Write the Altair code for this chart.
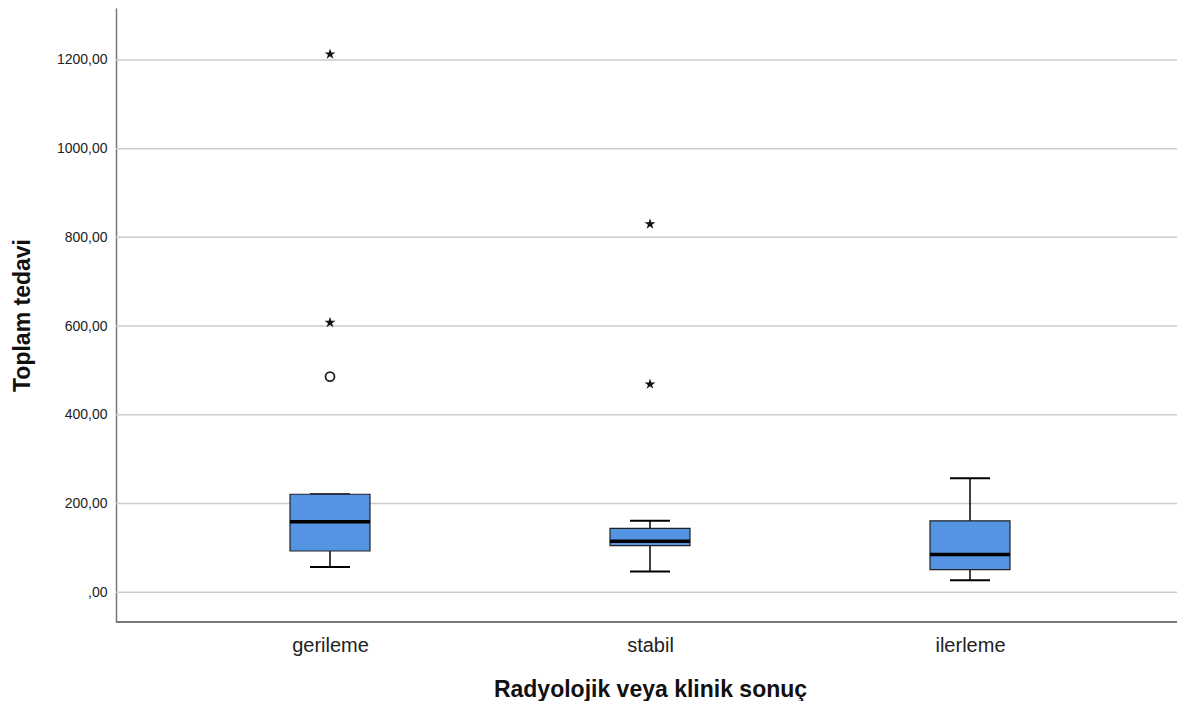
import altair as alt
import pandas as pd

categories = ["gerileme", "stabil", "ilerleme"]
whisker_low = [57, 47, 27]
q1 = [93, 105, 51]
median = [159, 115, 85]
q3 = [221, 144, 161]
whisker_high = [221, 161, 257]

circle_cat = ["gerileme"]
circle_val = [486]
star_cat = ["gerileme", "gerileme", "stabil", "stabil"]
star_val = [608, 1213, 830, 469]

y_ticks = [0, 200, 400, 600, 800, 1000, 1200]
y_min, y_max = -67, 1317

box_df = pd.DataFrame({"cat": categories, "lo": whisker_low, "q1": q1,
                       "med": median, "q3": q3, "hi": whisker_high})
circ_df = pd.DataFrame({"cat": circle_cat, "v": circle_val})
star_df = pd.DataFrame({"cat": star_cat, "v": star_val})
grid_df = pd.DataFrame({"t": y_ticks})

FONT = "Liberation Sans"
STAR = ("M0,-1L0.2234,-0.3074L0.951,-0.309L0.3614,0.1174L0.588,0.809L0,0.38"
        "L-0.588,0.809L-0.3614,0.1174L-0.951,-0.309L-0.2234,-0.3074Z")

xscale = alt.Scale(domain=categories, type="point", range=[214, 854], padding=0)
yscale = alt.Scale(domain=[y_min, y_max], nice=False, zero=False)

x_axis = alt.Axis(title="Radyolojik veya klinik sonuç", orient="bottom", labelAngle=0,
                  labelFont=FONT, labelFontSize=20, labelColor="#222",
                  labelPadding=13, ticks=False, domain=False,
                  titleFont=FONT, titleFontSize=23,
                  titleFontWeight="bold", titleColor="#111",
                  titleY=74, titleBaseline="alphabetic", grid=False)
y_axis = alt.Axis(title="Toplam tedavi", orient="left", values=y_ticks,
                  labelExpr="datum.value == 0 ? ',00' : replace(format(datum.value, '.2f'), '.', ',')",
                  labelFont=FONT, labelFontSize=14, labelColor="#222",
                  labelPadding=9, ticks=False, domainColor="#777", domainWidth=1.5,
                  grid=False, titleFont=FONT,
                  titleFontSize=23, titleFontWeight="bold", titleColor="#111",
                  titleX=-87, titleY=307, titleBaseline="alphabetic",
                  titleAlign="center", titleAngle=270)


def X():
    return alt.X("cat:N", scale=xscale, sort=categories, axis=x_axis)


def Y(f):
    return alt.Y(f, scale=yscale, axis=y_axis)


gridlines = alt.Chart(grid_df).mark_rule(color="#cccccc", strokeWidth=1.5).encode(
    y=Y("t:Q"))
bottom_line = alt.Chart(grid_df).mark_rule(color="#777", strokeWidth=1.5).encode(
    y=alt.Y(datum=y_min, scale=yscale, axis=y_axis))

base = alt.Chart(box_df)

whisk = base.mark_rule(color="black", strokeWidth=1.5).encode(
    x=X(), y=Y("lo:Q"), y2="hi:Q")
caps_lo = base.mark_tick(color="black", size=40, thickness=2, opacity=1).encode(
    x=X(), y=Y("lo:Q"))
caps_hi = base.mark_tick(color="black", size=40, thickness=2, opacity=1).encode(
    x=X(), y=Y("hi:Q"))
box = base.mark_bar(size=80, fill="#5494e3", stroke="#222", strokeWidth=1.2,
                    opacity=1).encode(x=X(), y=Y("q1:Q"), y2="q3:Q")
med = base.mark_tick(color="black", size=80, thickness=3.5, opacity=1).encode(
    x=X(), y=Y("med:Q"))
circ = alt.Chart(circ_df).mark_point(shape="circle", size=80, color="#222",
                                     strokeWidth=1.8, filled=False, opacity=1).encode(
    x=X(), y=Y("v:Q"))
star = alt.Chart(star_df).mark_point(shape=STAR, size=130, color="#111",
                                     filled=True, opacity=1, strokeWidth=0).encode(
    x=X(), y=Y("v:Q"))

chart = alt.layer(gridlines, bottom_line, whisk, caps_lo, caps_hi, box, med, circ,
                  star).properties(
    width=1061, height=614,
    autosize=alt.AutoSizeParams(type="none"),
    padding={"left": 108, "top": 0, "right": 0, "bottom": 79},
).configure(background="white").configure_view(stroke=None)

chart.save("out.html", embed_options={"renderer": "svg", "actions": False})
